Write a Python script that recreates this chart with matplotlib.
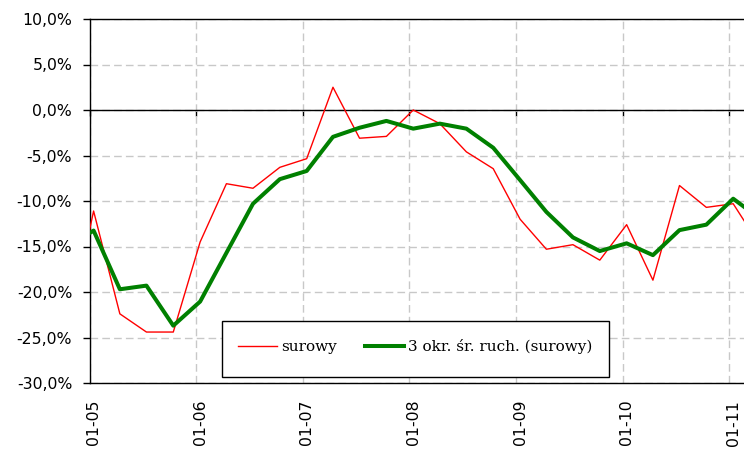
import matplotlib
matplotlib.use("Agg")
import matplotlib.pyplot as plt
import matplotlib.dates as mdates
import matplotlib.ticker as mticker
from matplotlib.patches import Rectangle
import pandas as pd

# quarterly observations (mid-month dates)
dates = pd.date_range("2004-10-01", periods=27, freq="3MS") + pd.Timedelta(days=14)

surowy = [-25.0, -11.1, -22.4, -24.4, -24.4, -14.5, -8.1, -8.6, -6.3, -5.35,
          2.5, -3.1, -2.9, 0.0, -1.5, -4.6, -6.45, -12.0, -15.3, -14.8,
          -16.5, -12.6, -18.7, -8.3, -10.7, -10.3, -14.8]

srednia = [-15.1, -13.25, -19.7, -19.3, -23.7, -21.05, -15.7, -10.3, -7.6, -6.7,
           -2.95, -1.95, -1.2, -2.05, -1.5, -2.05, -4.15, -7.7, -11.2, -14.0,
           -15.5, -14.65, -15.95, -13.2, -12.6, -9.75, -11.9]

labels = ["surowy", "3 okr. \u015br. ruch. (surowy)"]

W, H = 744, 449
fig = plt.figure(figsize=(W / 100, H / 100), dpi=100)
ax = fig.add_axes([89.5 / W, 1 - 383 / H, 654.5 / W, 364 / H])

ax.plot(dates, surowy, color="#ff0000", lw=1.0, label=labels[0], zorder=3)
ax.plot(dates, srednia, color="#008000", lw=2.9, label=labels[1], zorder=4)

ax.set_xlim(pd.Timestamp("2005-01-01"), pd.Timestamp("2011-02-21"))
ax.set_ylim(-30, 10)

ax.xaxis.set_major_locator(mdates.YearLocator())
ax.xaxis.set_major_formatter(mdates.DateFormatter("%m-%y"))
ax.yaxis.set_major_locator(mticker.MultipleLocator(5))
ax.yaxis.set_major_formatter(mticker.FuncFormatter(lambda v, p: f"{v:.1f}%".replace(".", ",")))

ax.grid(True, color="#c8c8c8", lw=1.0, linestyle=(0, (5.5, 3)), zorder=0)
ax.set_axisbelow(True)

for s in ["left", "top", "bottom"]:
    ax.spines[s].set_color("black")
    ax.spines[s].set_linewidth(1.0)
ax.spines["right"].set_visible(False)

ax.tick_params(axis="y", direction="out", length=5, width=1, pad=7.5,
               labelsize=11.3, colors="black")
ax.tick_params(axis="x", length=0, pad=12, labelsize=11.3, labelrotation=90)
for lab in ax.get_xticklabels():
    lab.set_fontfamily("DejaVu Sans")
    lab.set_transform(lab.get_transform() + matplotlib.transforms.ScaledTranslation(4 / 100, 0, fig.dpi_scale_trans))

# horizontal axis line at 0 with outward (downward) ticks
ax.axhline(0, color="black", lw=1.0, zorder=2)
sec = ax.secondary_xaxis(0.75)
sec.set_alignment("bottom")
sec.xaxis.set_major_locator(mdates.YearLocator())
sec.tick_params(axis="x", direction="out", length=4, width=1, labelbottom=False, labeltop=False)
for s in sec.spines.values():
    s.set_visible(False)

# legend box
x0 = (221.7 - 89.5) / 654.5
x1 = (609.3 - 89.5) / 654.5
y0 = (383 - 377.3) / 364
y1 = (383 - 320.7) / 364
ax.add_patch(Rectangle((x0, y0), x1 - x0, y1 - y0, transform=ax.transAxes,
                       facecolor="white", edgecolor="black", lw=1.0, zorder=5))
leg = ax.legend(loc="center left", bbox_to_anchor=((238 - 89.5) / 654.5, (383 - 347) / 364),
                ncol=2, frameon=False, borderpad=0, borderaxespad=0,
                handlelength=2.55, handletextpad=0.26, columnspacing=1.83,
                prop={"family": "DejaVu Serif", "size": 11})
leg.set_zorder(6)

fig.savefig("out.png", dpi=100)
